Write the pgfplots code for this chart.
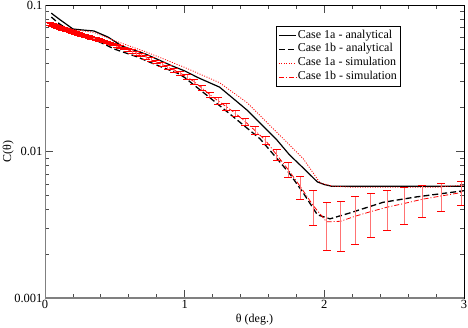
\documentclass[border=0pt]{standalone}
\usepackage{fontspec}
\setmainfont{Liberation Serif}
\usepackage{pgfplots}
\usepackage{pgfplotstable}
\pgfplotsset{compat=1.18}
\pgfplotstableread{
x y e
0.037 0.0741 0.0015
0.039 0.0740 0.0015
0.041 0.0739 0.0015
0.043 0.0737 0.0015
0.045 0.0736 0.0015
0.047 0.0735 0.0015
0.050 0.0733 0.0015
0.052 0.0732 0.0015
0.055 0.0730 0.0015
0.057 0.0729 0.0015
0.060 0.0727 0.0015
0.063 0.0725 0.0015
0.066 0.0723 0.0014
0.070 0.0721 0.0014
0.073 0.0719 0.0014
0.077 0.0716 0.0014
0.081 0.0714 0.0014
0.085 0.0711 0.0014
0.089 0.0709 0.0014
0.093 0.0706 0.0014
0.098 0.0703 0.0014
0.103 0.0701 0.0014
0.108 0.0698 0.0014
0.113 0.0696 0.0014
0.119 0.0693 0.0014
0.125 0.0690 0.0014
0.131 0.0687 0.0014
0.138 0.0684 0.0014
0.145 0.0680 0.0014
0.152 0.0677 0.0014
0.159 0.0674 0.0013
0.167 0.0670 0.0013
0.176 0.0666 0.0013
0.184 0.0662 0.0013
0.194 0.0657 0.0013
0.203 0.0653 0.0013
0.214 0.0648 0.0013
0.224 0.0643 0.0013
0.236 0.0638 0.0013
0.247 0.0633 0.0013
0.260 0.0628 0.0013
0.273 0.0622 0.0012
0.286 0.0616 0.0012
0.301 0.0610 0.0012
0.316 0.0604 0.0012
0.331 0.0599 0.0012
0.348 0.0592 0.0012
0.365 0.0586 0.0012
0.384 0.0579 0.0012
0.403 0.0572 0.0011
0.423 0.0564 0.0011
0.444 0.0555 0.0011
0.466 0.0547 0.0011
0.490 0.0537 0.0011
0.514 0.0527 0.0011
0.540 0.0517 0.0010
0.567 0.0506 0.0010
0.595 0.0495 0.0010
0.625 0.0483 0.0014
0.656 0.0470 0.0014
0.689 0.0457 0.0014
0.724 0.0441 0.0013
0.760 0.0425 0.0013
0.798 0.0409 0.0012
0.838 0.0393 0.0012
0.879 0.0377 0.0011
0.923 0.0360 0.0011
0.970 0.0342 0.0010
1.018 0.0322 0.0013
1.069 0.0299 0.0012
1.122 0.0272 0.0011
1.179 0.0245 0.0010
1.238 0.0222 0.0011
1.299 0.0202 0.0010
1.364 0.0182 0.0009
1.433 0.0160 0.0009
1.504 0.0139 0.0009
1.579 0.0119 0.0008
1.658 0.0095 0.00085
1.741 0.00753 0.00086
1.828 0.00576 0.00104
1.920 0.00428 0.00113
2.016 0.00331 0.00119
2.116 0.00334 0.00125
2.222 0.00362 0.00129
2.333 0.00389 0.00129
2.450 0.00417 0.00129
2.572 0.00442 0.00124
2.701 0.00472 0.00118
2.836 0.00497 0.00109
2.978 0.00524 0.00098
}\simb
\begin{document}
\begin{tikzpicture}
\path[use as bounding box] (0,0) rectangle (468pt,327pt);
\begin{axis}[
  at={(45pt,29pt)}, anchor=south west,
  scale only axis, width=419pt, height=293pt,
  xmin=0, xmax=3, ymin=0.001, ymax=0.1, ymode=log,
  xtick={0,1,2,3}, xticklabels={0,1,2,3},
  minor x tick num=4,
  ytick={0.001,0.01,0.1}, yticklabels={0.001,0.01,0.1},
  tick align=inside,
  major tick length=8pt, minor tick length=4pt,
  tick style={black!70, line width=0.8pt},
  ticklabel style={font=\fontsize{12.5}{14}\selectfont},
  xticklabel style={yshift=1pt},
  yticklabel style={xshift=1pt},
  xlabel={θ (deg.)}, ylabel={C(θ)},
  label style={font=\fontsize{12}{14}\selectfont},
  xlabel style={at={(axis description cs:0.5,-0.072)}, anchor=center},
  ylabel style={at={(axis description cs:-0.088,0.5)}, anchor=center},
  axis line style={black, line width=1pt},
  legend cell align=left,
  legend style={at={(0.5513,0.9283)}, anchor=north west, draw=black,
    line width=0.6pt, fill=white, font=\fontsize{12}{13}\selectfont,
    inner sep=2pt, row sep=0pt,
    nodes={text height=8.5pt, text depth=3pt, inner sep=1.2pt}},
]
\addplot[black, line width=1.2pt] coordinates {
(0.045,0.0880) (0.1,0.0803) (0.2,0.0686) (0.27,0.0675) (0.35,0.0665)
(0.45,0.0605) (0.55,0.0525) (0.72,0.0463) (0.91,0.0384) (1.0,0.0355)
(1.1,0.0318) (1.25,0.0275) (1.35,0.0229) (1.446,0.0192) (1.55,0.0153)
(1.66,0.0120) (1.75,0.0095) (1.85,0.0077) (1.95,0.0062) (2.0,0.00595)
(2.05,0.0058) (2.5,0.0058) (3.0,0.0058)};
\addlegendentry{Case 1a - analytical}
\addplot[black, line width=1.3pt, dash pattern=on 6pt off 3pt] coordinates {
(0.045,0.0828) (0.1,0.0747) (0.238,0.0614) (0.32,0.0602) (0.4,0.0554)
(0.5,0.0499) (0.656,0.0444) (0.8,0.0389) (0.95,0.0342) (1.0,0.0320)
(1.2,0.0225) (1.35,0.0172) (1.54,0.0122) (1.65,0.0092) (1.75,0.0071)
(1.85,0.0052) (1.95,0.0037) (2.04,0.00347) (2.18,0.0038) (2.42,0.0045)
(2.66,0.0049) (3.0,0.0054)};
\addlegendentry{Case 1b - analytical}
\addplot[red, line width=0.8pt, dash pattern=on 1pt off 1.5pt] coordinates {
(0.045,0.0760) (0.2,0.0680) (0.35,0.0650) (0.5,0.0570) (0.72,0.0480)
(1.0,0.0375) (1.25,0.0295) (1.446,0.0216) (1.66,0.0135) (1.70,0.0124)
(1.85,0.0089) (1.97,0.0061) (2.06,0.0058) (2.2,0.0057) (2.5,0.0057)
(2.8,0.0057) (3.0,0.0059)};
\addlegendentry{Case 1a - simulation}
\addplot[color=red, line width=0.8pt, dash pattern=on 5pt off 2pt on 1pt off 2pt,
  legend image code/.code={\draw[red, line width=0.8pt,
    dash pattern=on 5pt off 2pt on 1pt off 2pt] (0cm,0cm) -- (0.6cm,0cm);},
  error bars/.cd, y dir=both, y explicit, error mark=none,
  error bar style={color=red!55, line width=0.8pt, solid}]
  table[x=x, y=y, y error=e] {\simb};
\addlegendentry{Case 1b - simulation}
\addplot[forget plot, color=red, draw opacity=0,
  error bars/.cd, x dir=both, x fixed=0.0286, error mark=none,
  error bar style={color=red, draw opacity=1, line width=0.8pt, solid}]
  table[x=x, y expr=\thisrow{y}+\thisrow{e}] {\simb};
\addplot[forget plot, color=red, draw opacity=0,
  error bars/.cd, x dir=both, x fixed=0.0286, error mark=none,
  error bar style={color=red, draw opacity=1, line width=0.8pt, solid}]
  table[x=x, y expr=\thisrow{y}-\thisrow{e}] {\simb};
\draw[black!50, line width=1.5pt] (rel axis cs:0,1) -- (rel axis cs:0,0) -- (rel axis cs:1,0);
\end{axis}
\end{tikzpicture}
\end{document}
